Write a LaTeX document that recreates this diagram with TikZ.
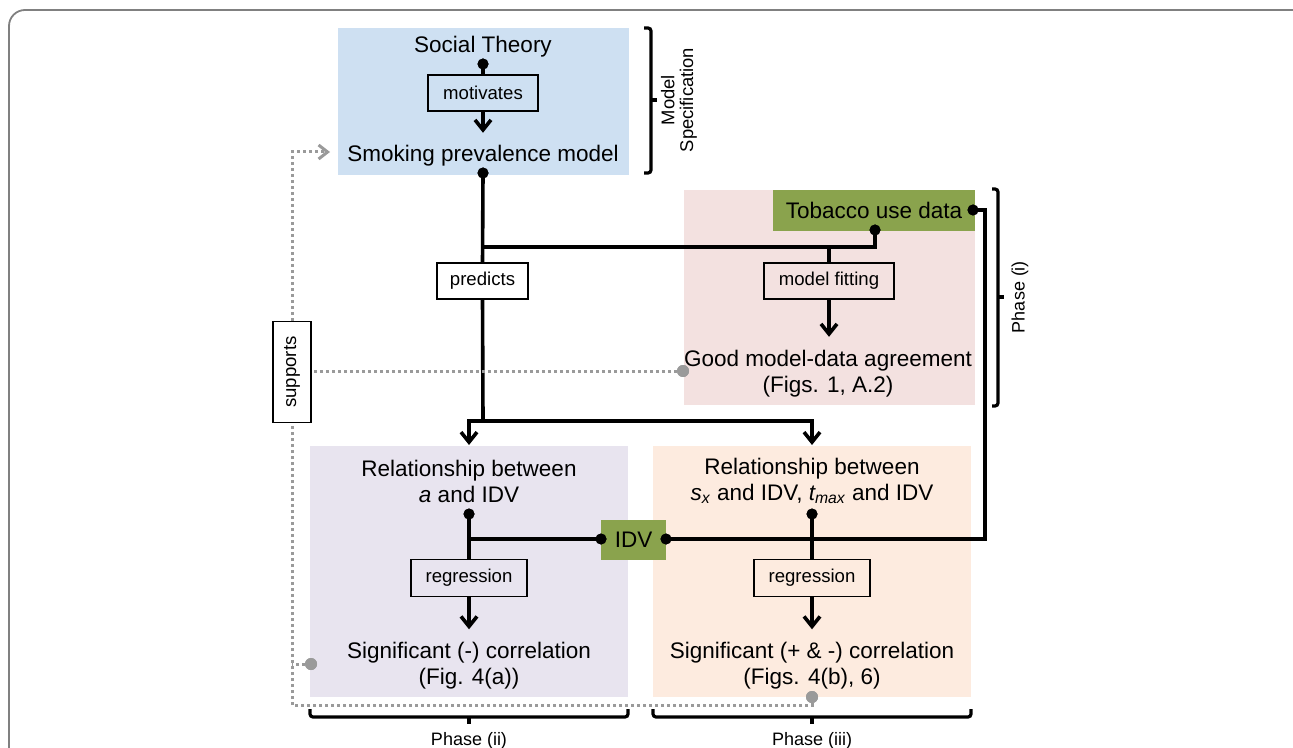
\documentclass[tikz,border=0pt]{standalone}
\usepackage{fontspec}
\setmainfont{Liberation Sans}
\usetikzlibrary{arrows.meta,calc}
\definecolor{bluebg}{HTML}{CEE0F2}
\definecolor{pinkbg}{HTML}{F3E1E0}
\definecolor{purplebg}{HTML}{E8E4EF}
\definecolor{peachbg}{HTML}{FDEBDF}
\definecolor{olive}{HTML}{8AA34D}
\definecolor{dotgray}{HTML}{9A9A9A}
\definecolor{framegray}{HTML}{808080}
\begin{document}
\begin{tikzpicture}[x=0.5pt,y=-0.5pt,
  big/.style={font=\fontsize{11.25pt}{13pt}\selectfont, inner sep=0pt, align=center},
  lab/.style={draw, line width=0.8pt, font=\fontsize{9.3pt}{11pt}\selectfont, inner sep=0pt, minimum height=18pt},
  gbox/.style={fill=olive, font=\fontsize{11.25pt}{13pt}\selectfont, inner sep=0pt},
  conn/.style={line width=1.8pt},
  arr/.style={conn, -{Straight Barb[length=5pt,width=8pt]}},
  dotc/.style={circle, fill=black, inner sep=0pt, minimum size=5.5pt},
  gdot/.style={circle, fill=dotgray, inner sep=0pt, minimum size=6pt},
  gline/.style={dotgray, line width=1.5pt, dash pattern=on 1.5pt off 1.5pt},
  garr/.style={gline, -{Straight Barb[length=4.5pt,width=7pt,line width=1.5pt]}},
  brk/.style={line width=1.6pt, rounded corners=1.5pt},
  smallt/.style={font=\fontsize{9pt}{11pt}\selectfont, inner sep=0pt},
  spec/.style={font=\fontsize{9.2pt}{9.3pt}\selectfont, inner sep=0pt, align=center}
]
\useasboundingbox (0,0) rectangle (1293,748);
% outer frame
\draw[framegray, line width=0.9pt, rounded corners=8pt] (9,820) -- (9,10) -- (1320,10);

% panels
\fill[bluebg] (338,28) rectangle (629,175);
\fill[pinkbg] (684,190) rectangle (975,405);
\fill[purplebg] (310,446) rectangle (628,697);
\fill[peachbg] (653,446) rectangle (971,697);

% text nodes
\node[big, anchor=base] (soc) at (483,53) {Social Theory};
\node[big, anchor=base] (smk) at (483,162) {Smoking prevalence model};
\node[gbox, minimum width=101pt, minimum height=20.5pt] (tob) at (874,210.5) {Tobacco use data};
\node[big] (good) at (828,374) {Good model-data agreement\\(Figs. 1, A.2)};
\node[big] (relL) at (469,481) {Relationship between\\{\itshape a} and IDV};
\node[big] (relR) at (812,481) {Relationship between\\{\itshape s}\textsubscript{\itshape x} and IDV, {\itshape t}\textsubscript{\itshape max} and IDV};
\node[big] (sigL) at (469,665.5) {Significant (-) correlation\\(Fig. 4(a))};
\node[big] (sigR) at (812,665.5) {Significant (+ \& -) correlation\\(Figs. 4(b), 6)};
\node[gbox, minimum width=32.5pt, minimum height=20pt] (idv) at (633.5,540) {IDV};

% label boxes
\node[lab, fill=bluebg, minimum width=55pt] (mot) at (483,93) {motivates};
\node[lab, fill=white, minimum width=45.5pt] (pred) at (482.5,281) {predicts};
\node[lab, fill=pinkbg, minimum width=65pt] (mfit) at (829,281) {model fitting};
\node[lab, fill=purplebg, minimum width=58pt, minimum height=18.5pt] (regL) at (469,578) {regression};
\node[lab, fill=peachbg, minimum width=58pt, minimum height=18.5pt] (regR) at (812,578) {regression};
\node[lab, fill=white, minimum width=19pt, minimum height=50.5pt] (sup) at (292,372) {\rotatebox{90}{supports}};

% coordinates
\coordinate (j1) at (483,247);
\coordinate (j2) at (483,421);
\coordinate (aL) at (469,445);
\coordinate (aR) at (812,445);
\coordinate (cR) at (985,539);
\coordinate (aG) at (330,152);

% dots
\node[dotc] (dSoc) at (483,64) {};
\node[dotc] (dSmk) at (483,173) {};
\node[dotc] (dTb) at (875,230) {};
\node[dotc] (dTr) at (973,210) {};
\node[dotc] (dL) at (469,514) {};
\node[dotc] (dR) at (812,514) {};
\node[dotc] (dIL) at (601,539) {};
\node[dotc] (dIR) at (666,539) {};
\node[gdot] (gG) at (683,371) {};
\node[gdot] (gL) at (311,664) {};
\node[gdot] (gR) at (812,697) {};

% black connectors
\draw[conn] (dSoc.center) -- (mot.north);
\draw[arr] (mot.south) -- ++(0,21);
\draw[conn] (dSmk.center) -- (pred.north);
\draw[conn] (dTb.center) |- (j1);
\draw[conn] (mfit.north) -- (mfit.north |- j1);
\draw[arr] (mfit.south) -- ++(0,37);
\draw[conn] (pred.south) -- (j2);
\draw[arr] (j2) -| (aL);
\draw[arr] (j2) -| (aR);
\draw[conn] (dL.center) -- (regL.north);
\draw[arr] (regL.south) -- ++(0,32);
\draw[conn] (dR.center) -- (regR.north);
\draw[arr] (regR.south) -- ++(0,32);
\draw[conn] (dIL.center) -- (dIL.center -| dL);
\draw[conn] (dIR.center) -- (cR) |- (dTr.center);

% redraw dots on top
\foreach \d in {dSoc,dSmk,dTb,dTr,dL,dR,dIL,dIR} \fill (\d) circle (2.75pt);

% grey dotted connectors
\draw[gline] (gG.center) -- (gG.center -| sup.east);
\draw[gline] (gL.center) -- (gL.center -| sup.south);
\draw[gline] (gR.center) -- ++(0,8) -| (sup.south);
\draw[garr] (sup.north) |- (aG);
\foreach \d in {gG,gL,gR} \fill[dotgray] (\d) circle (3pt);

% brackets
\draw[brk] (644,28) -- (651,28) -- (651,173) -- (644,173);
\draw[brk] (651,100) -- (657,100);
\node[spec, rotate=90] (mspec) at (679,100) {Model\\Specification};

\draw[brk] (992,189) -- (998,189) -- (998,406) -- (992,406);
\draw[brk] (998,297) -- (1004,297);
\node[smallt, rotate=90] (ph1) at (1020,297) {Phase (i)};

\draw[brk] (310,709) -- (310,717) -- (628,717) -- (628,709);
\draw[brk] (469,717) -- (469,724);
\node[smallt, anchor=base] (ph2) at (469,745) {Phase (ii)};

\draw[brk] (653,709) -- (653,717) -- (971,717) -- (971,709);
\draw[brk] (812,717) -- (812,724);
\node[smallt, anchor=base] (ph3) at (812,745) {Phase (iii)};
\end{tikzpicture}
\end{document}
